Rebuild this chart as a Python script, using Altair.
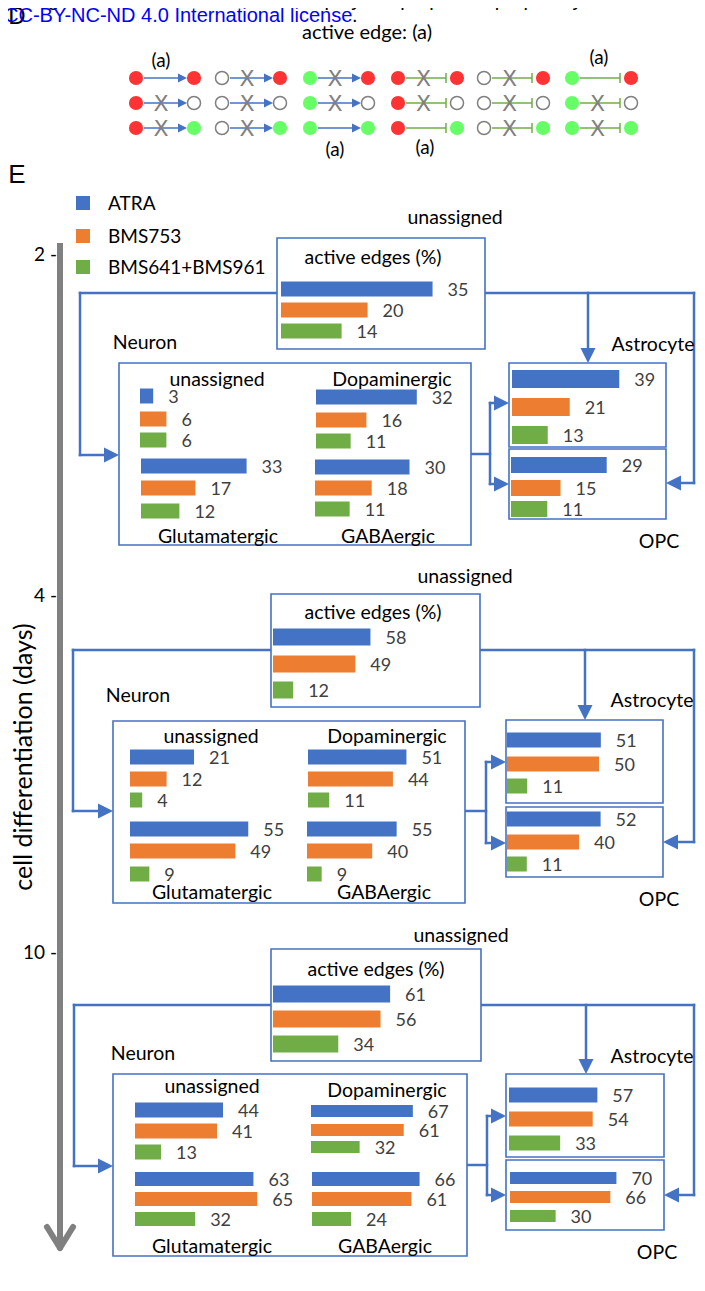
import altair as alt
import pandas as pd

# ---------------- data ----------------
treatments = ["ATRA", "BMS753", "BMS641+BMS961"]
treat_colors = ["#4472C4", "#ED7D31", "#70AD47"]
days = ["2", "4", "10"]

# values per day (rows) x treatment (cols)
active_edges = [[35, 20, 14], [58, 49, 12], [61, 56, 34]]
neuron_unassigned = [[3, 6, 6], [21, 12, 4], [44, 41, 13]]
dopaminergic = [[32, 16, 11], [51, 44, 11], [67, 61, 32]]
glutamatergic = [[33, 17, 12], [55, 49, 9], [63, 65, 32]]
gabaergic = [[30, 18, 11], [55, 40, 9], [66, 61, 24]]
astrocyte = [[39, 21, 13], [51, 50, 11], [57, 54, 33]]
opc = [[29, 15, 11], [52, 40, 11], [70, 66, 30]]

neuron_sub_labels = ["unassigned", "Dopaminergic", "Glutamatergic", "GABAergic"]

# panel D: node states (left, right) per row/column, edge type per column
node_states = [
    [("red", "red"), ("open", "red"), ("green", "red"), ("red", "red"), ("open", "red"), ("green", "red")],
    [("red", "open"), ("open", "open"), ("green", "open"), ("red", "open"), ("open", "open"), ("green", "open")],
    [("red", "green"), ("open", "green"), ("green", "green"), ("red", "green"), ("open", "green"), ("green", "green")],
]
edge_types = ["activation", "activation", "activation", "inhibition", "inhibition", "inhibition"]
edge_active = [
    [True, False, False, False, False, True],
    [False, False, False, False, False, False],
    [False, False, True, True, False, False],
]

# ---------------- layout / style ----------------
W, H = 688, 1265
XS = alt.Scale(domain=[8, 8 + W], nice=False, zero=False)
YS = alt.Scale(domain=[8, 8 + H], nice=False, zero=False, reverse=True)
BLUE_LINE = "#4472C4"
node_fill = {"red": "#FF3333", "green": "#66FF66"}
FS = 19.5  # Calibri-like text size

# (x0, bar centre ys, bar height, px per unit) per group per panel
bar_layout = {
    "active": [(281, [289, 310, 331], 15, 4.33), (273, [637, 664, 690], 17, 1.68), (273, [994, 1019, 1044], 17, 1.92)],
    "n_unassigned": [(140, [396, 419, 440], 15, 4.4), (130, [757, 779, 800], 15, 3.05), (135, [1110, 1131, 1152], 15, 2.0)],
    "dopaminergic": [(316, [397, 420, 441], 15, 3.15), (308, [757, 779, 800], 15, 1.93), (311, [1111, 1130, 1147], 12, 1.52)],
    "glutamatergic": [(141, [466, 488, 511], 15, 3.2), (130, [829, 851, 874], 15, 2.15), (135, [1179, 1199, 1219], 14, 1.88)],
    "gabaergic": [(315, [467, 488, 509], 15, 3.15), (307, [829, 851, 874], 15, 1.63), (312, [1179, 1199, 1219], 14, 1.63)],
    "astrocyte": [(512, [379, 407, 435], 18, 2.75), (507, [740, 764, 786], 15, 1.84), (509, [1095, 1119, 1143], 15, 1.55)],
    "opc": [(511, [465, 488, 509], 16, 3.3), (507, [819, 842, 864], 15, 1.8), (510, [1178, 1197, 1216], 12, 1.52)],
}

boxes = [
    {"unassigned": (277, 238, 485, 349), "neuron": (119, 363, 471, 545), "astro": (509, 363, 666, 447), "opc": (509, 449, 666, 519)},
    {"unassigned": (271, 594, 480, 707), "neuron": (113, 721, 465, 903), "astro": (506, 720, 663, 803), "opc": (506, 807, 663, 877)},
    {"unassigned": (271, 949, 481, 1061), "neuron": (113, 1074, 467, 1256), "astro": (506, 1074, 664, 1157), "opc": (506, 1160, 664, 1230)},
]

connect = [
    dict(ty=293, lx=80, niy=455, rx=694, oiy=483, ax=588, sx=490, noy=454, aiy=403, oly=484),
    dict(ty=650, lx=73, niy=811, rx=694, oiy=842, ax=585, sx=486, noy=811, aiy=762, oly=843),
    dict(ty=1005, lx=74, niy=1166, rx=694, oiy=1195, ax=586, sx=487, noy=1165, aiy=1116, oly=1195),
]

dividers = [
    dict(vx=[139, 314], vy=(375, 535), hy=452, hx=(139, 461)),
    dict(vx=[129, 306], vy=(732, 892), hy=809, hx=(129, 454)),
    dict(vx=[133, 310], vy=(1087, 1245), hy=1164, hx=(135, 458)),
]

panel_text = [
    dict(unassigned=(455, 218), active=(373, 258), neuron=(145, 343), astro=(653, 345), opc=(659, 542),
         sub=[(217, 380), (392, 380), (218, 537), (388, 537)]),
    dict(unassigned=(465, 577), active=(373, 613), neuron=(138, 696), astro=(652, 701), opc=(659, 900),
         sub=[(211, 737), (387, 737), (212, 893), (384, 893)]),
    dict(unassigned=(461, 936), active=(376, 970), neuron=(143, 1054), astro=(652, 1057), opc=(657, 1253),
         sub=[(212, 1087), (387, 1091), (212, 1247), (385, 1247)]),
]
day_label_y = [255, 596, 953]

d_left_x = [136, 222, 310, 398, 484, 572]
d_right_x = [194, 280, 368, 457, 543, 631]
d_row_y = [78, 103, 128]
d_active_labels = [(161, 61), (599, 58), (335, 150), (425, 148)]

# ---------------- build tables ----------------
groups = [("active", active_edges), ("n_unassigned", neuron_unassigned), ("dopaminergic", dopaminergic),
          ("glutamatergic", glutamatergic), ("gabaergic", gabaergic), ("astrocyte", astrocyte), ("opc", opc)]
rows = []
for gname, vals in groups:
    for p in range(3):
        x0, ycs, h, k = bar_layout[gname][p]
        for t in range(3):
            rows.append(dict(value=vals[p][t], x0=x0, yc=ycs[t], h=h, k=k, treatment=treatments[t]))
bars = pd.DataFrame(rows)

texts = []


def T(text, x, y, size, color="#000000", align="center", font="Lato", angle=0):
    texts.append(dict(text=text, x=x, y=y, size=size, color=color, align=align, font=font, angle=angle))


T("has granted bioRxiv a license to display the preprint in perpetuity. It is made available", 10, 0, 20,
  align="left", font="Liberation Sans")
T("CC-BY-NC-ND 4.0 International license", 4, 16, 20, color="#0000FF", align="left", font="Liberation Sans")
T(".", 352, 16, 20, align="left", font="Liberation Sans")
T("D", 17, 17, 24, font="Liberation Sans")
T("active edge: (a)", 367, 33, 20)
for (x, y) in d_active_labels:
    T("(a)", x, y, 19)
T("E", 17, 175, 26, font="Liberation Sans")
for i, tname in enumerate(treatments):
    T(tname, 108, [203, 236, 267][i] + 1, 19, align="left")
for d, y in zip(days, day_label_y):
    T(d + " -", 57, y, 19, align="right")
T("cell differentiation (days)", 24, 757, 25, angle=270)
for p in range(3):
    pt = panel_text[p]
    T("unassigned", *pt["unassigned"], FS)
    T("active edges (%)", *pt["active"], FS)
    T("Neuron", *pt["neuron"], FS)
    T("Astrocyte", *pt["astro"], FS)
    T("OPC", *pt["opc"], FS)
    for lab, (x, y) in zip(neuron_sub_labels, pt["sub"]):
        T(lab, x, y, FS)
# X marks on inactive edges
for r in range(3):
    for c in range(6):
        if not edge_active[r][c]:
            T("X", (d_left_x[c] + d_right_x[c]) / 2 - 4, d_row_y[r] + 1, 22, color="#808080",
              font="DejaVu Sans")
texts = pd.DataFrame(texts)

# rule segments
segs = []


def S(x, y, x2, y2, color, width, kind):
    segs.append(dict(x=x, y=y, x2=x2, y2=y2, color=color, width=width, kind=kind))


arrows = []
RIGHT = "M0,0L-1,-0.5L-1,0.5Z"
LEFT = "M0,0L1,-0.5L1,0.5Z"
DOWN = "M0,0L-0.5,-1L0.5,-1Z"


def A(x, y, shape, size):
    arrows.append(dict(x=x, y=y, shape=shape, size=size))


L = 15
for p in range(3):
    b = boxes[p]
    c = connect[p]
    ub = b["unassigned"]
    nb = b["neuron"]
    ab = b["astro"]
    ob = b["opc"]
    S(ub[0], c["ty"], c["lx"], c["ty"], BLUE_LINE, 2.5, "conn")
    S(c["lx"], c["ty"], c["lx"], c["niy"], BLUE_LINE, 2.5, "conn")
    S(c["lx"], c["niy"], nb[0] - L + 2, c["niy"], BLUE_LINE, 2.5, "conn")
    A(nb[0], c["niy"], RIGHT, (2 * L) ** 2)
    S(ub[2], c["ty"], c["rx"], c["ty"], BLUE_LINE, 2.5, "conn")
    S(c["rx"], c["ty"], c["rx"], c["oiy"], BLUE_LINE, 2.5, "conn")
    S(c["rx"], c["oiy"], ob[2] + L - 2, c["oiy"], BLUE_LINE, 2.5, "conn")
    A(ob[2], c["oiy"], LEFT, (2 * L) ** 2)
    S(c["ax"], c["ty"], c["ax"], ab[1] - L + 2, BLUE_LINE, 2.5, "conn")
    A(c["ax"], ab[1], DOWN, (2 * L) ** 2)
    S(nb[2], c["noy"], c["sx"], c["noy"], BLUE_LINE, 2.5, "conn")
    S(c["sx"], c["aiy"], c["sx"], c["oly"], BLUE_LINE, 2.5, "conn")
    S(c["sx"], c["aiy"], ab[0] - L + 2, c["aiy"], BLUE_LINE, 2.5, "conn")
    A(ab[0], c["aiy"], RIGHT, (2 * L) ** 2)
    S(c["sx"], c["oly"], ob[0] - L + 2, c["oly"], BLUE_LINE, 2.5, "conn")
    A(ob[0], c["oly"], RIGHT, (2 * L) ** 2)
    dv = dividers[p]
    for vx in dv["vx"]:
        S(vx, dv["vy"][0], vx, dv["vy"][1], "#BFBFBF", 1.5, "plain")
    S(dv["hx"][0], dv["hy"], dv["hx"][1], dv["hy"], "#BFBFBF", 1.5, "plain")

# time axis
S(60, 243, 60, 1244, "#808080", 6, "plain")
S(47, 1227, 60, 1248, "#808080", 6, "round")
S(73, 1227, 60, 1248, "#808080", 6, "round")

# panel D edges
for r in range(3):
    for c in range(6):
        y = d_row_y[r]
        lx, rx = d_left_x[c], d_right_x[c]
        if edge_types[c] == "activation":
            S(lx + 8, y, rx - 15, y, BLUE_LINE, 1.3, "plain")
            A(rx - 7, y, RIGHT, 18 ** 2)
        else:
            S(lx + 8, y, rx - 11, y, "#70AD47", 1.5, "plain")
            S(rx - 11, y - 5, rx - 11, y + 5, "#70AD47", 1.5, "plain")
segs = pd.DataFrame(segs)
arrows = pd.DataFrame(arrows)

nodes = []
for r in range(3):
    for c in range(6):
        for side, x in (("l", d_left_x[c]), ("r", d_right_x[c])):
            st = node_states[r][c][0 if side == "l" else 1]
            nodes.append(dict(x=x, y=d_row_y[r], state=st, fill=node_fill.get(st, "#FFFFFF")))
nodes = pd.DataFrame(nodes)

box_rows = []
for p in range(3):
    for name, (x0, y0, x1, y1) in boxes[p].items():
        box_rows.append(dict(x=x0, y=y0, x2=x1, y2=y1))
box_df = pd.DataFrame(box_rows)

legend_df = pd.DataFrame(dict(treatment=treatments, x=[83] * 3, y=[203, 236, 267]))

# ---------------- charts ----------------
def X(f):
    return alt.X(f, scale=XS, axis=None)


def Y(f):
    return alt.Y(f, scale=YS, axis=None)


layers = []
for kind, cap in (("conn", "square"), ("plain", "butt"), ("round", "round")):
    sub = segs[segs.kind == kind]
    layers.append(alt.Chart(sub).mark_rule(strokeCap=cap).encode(
        x=X("x:Q"), y=Y("y:Q"), x2="x2:Q", y2="y2:Q",
        color=alt.Color("color:N", scale=None),
        strokeWidth=alt.StrokeWidth("width:Q", scale=None)))

layers.append(alt.Chart(box_df).mark_rect(fill="white", stroke=BLUE_LINE, strokeWidth=1.6).encode(
    x=X("x:Q"), y=Y("y:Q"), x2="x2:Q", y2="y2:Q"))

layers.append(alt.Chart(arrows).mark_point(filled=True, opacity=1, color=BLUE_LINE, strokeWidth=0).encode(
    x=X("x:Q"), y=Y("y:Q"), shape=alt.Shape("shape:N", scale=None),
    size=alt.Size("size:Q", scale=None)))

open_nodes = nodes[nodes.state == "open"]
fill_nodes = nodes[nodes.state != "open"]
layers.append(alt.Chart(open_nodes).mark_circle(size=170, fill="white", stroke="#808080", strokeWidth=1.5,
                                                opacity=1).encode(x=X("x:Q"), y=Y("y:Q")))
layers.append(alt.Chart(fill_nodes).mark_circle(size=200, opacity=1).encode(
    x=X("x:Q"), y=Y("y:Q"), color=alt.Color("fill:N", scale=None)))

color_scale = alt.Scale(domain=treatments, range=treat_colors)
bar_base = alt.Chart(bars).transform_calculate(
    xe="datum.x0 + datum.value * datum.k",
    ytop="datum.yc - datum.h / 2",
    ybot="datum.yc + datum.h / 2",
    xl="datum.x0 + datum.value * datum.k + 15",
    yl="datum.yc + 2",
)
layers.append(bar_base.mark_rect().encode(
    x=X("x0:Q"), x2="xe:Q", y=Y("ytop:Q"), y2="ybot:Q",
    color=alt.Color("treatment:N", scale=color_scale, legend=None)))
layers.append(bar_base.mark_text(align="left", baseline="middle", font="Lato", fontSize=18,
                                 color="#404040").encode(
    x=X("xl:Q"), y=Y("yl:Q"), text="value:Q"))

layers.append(alt.Chart(legend_df).mark_square(size=196, opacity=1).encode(
    x=X("x:Q"), y=Y("y:Q"), color=alt.Color("treatment:N", scale=color_scale, legend=None)))

for (align, font), sub in texts.groupby(["align", "font"]):
    layers.append(alt.Chart(sub).mark_text(align=align, baseline="middle", font=font).encode(
        x=X("x:Q"), y=Y("y:Q"), text="text:N",
        size=alt.Size("size:Q", scale=None),
        color=alt.Color("color:N", scale=None),
        angle=alt.Angle("angle:Q", scale=None)))

chart = alt.layer(*layers).properties(
    width=W, height=H, padding=0, autosize=alt.AutoSizeParams(type="none"), background="white"
).configure_view(stroke=None)

chart.save("out.html", embed_options={"renderer": "svg", "actions": False})
